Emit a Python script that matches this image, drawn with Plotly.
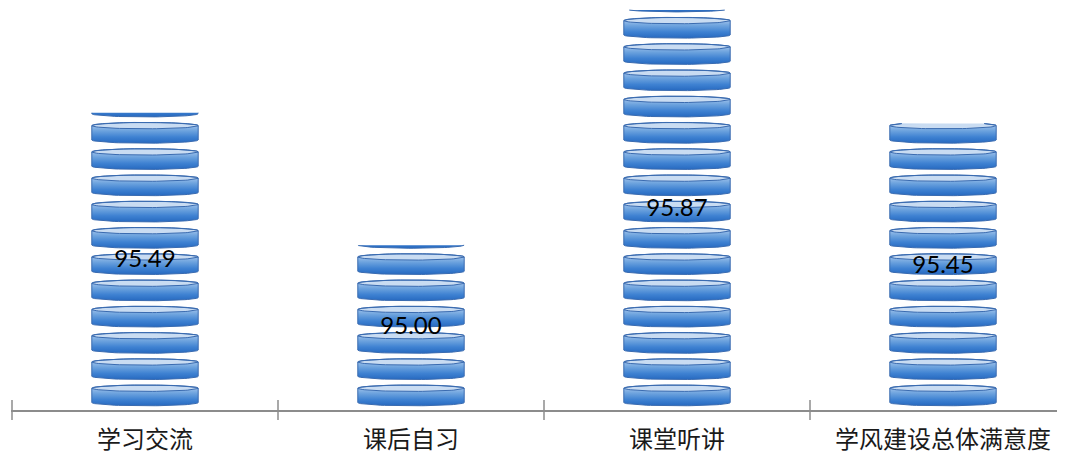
import numpy as np
import plotly.graph_objects as go

# ---------------- data ----------------
categories = ["学习交流", "课后自习", "课堂听讲", "学风建设总体满意度"]
values = [95.49, 95.00, 95.87, 95.45]
value_labels = ["95.49", "95.00", "95.87", "95.45"]
boundaries = [-0.5, 0.5, 1.5, 2.5]

# ---------------- layout / style ----------------
# (the page body adds an 8px offset, so margins are chosen to compensate)
W, H = 1065, 454
M_L, M_R, M_T, M_B = 3, 8, 0, 52
PLOT_H = H - M_T - M_B
PLOT_W = W - M_L - M_R
PX_X = 266.0                      # pixels per category
X0 = -0.5 - 1.0 / PX_X
X1 = X0 + PLOT_W / PX_X
PX_Y = 270.2                      # pixels per value unit
Y_MIN = 94.39
Y_MAX = Y_MIN + PLOT_H / PX_Y

PITCH = 26.26 / PX_Y    # disc repeat
DISC_H = 20.8 / PX_Y    # disc height
GAP0 = 4.2 / PX_Y       # gap above axis
RY = 3.2 / PX_Y         # ellipse half-height
HALF_W = 0.2            # half disc width (category units)

AXIS_COLOR = "#8c8c8c"
OUTLINE = "#3a6bb0"
TOP_FILL = "#c9dcf2"
SIDE_SCALE = [[0.0, "#2669c0"], [0.3, "#3f82d2"], [0.6, "#6da3de"],
              [0.85, "#9cc0ea"], [1.0, "#b4cfef"]]


def clip_polygon(pts, ytop):
    out = []
    n = len(pts)
    for i in range(n):
        p, q = pts[i], pts[(i + 1) % n]
        pin, qin = p[1] <= ytop, q[1] <= ytop
        if pin:
            out.append(p)
        if pin != qin:
            t = (ytop - p[1]) / (q[1] - p[1])
            out.append((p[0] + t * (q[0] - p[0]), ytop))
    return out


def clip_polyline(pts, ytop):
    pieces, cur = [], []
    for i in range(len(pts) - 1):
        p, q = pts[i], pts[i + 1]
        pin, qin = p[1] <= ytop, q[1] <= ytop
        if pin:
            if not cur:
                cur.append(p)
        if pin and qin:
            cur.append(q)
        elif pin != qin:
            t = (ytop - p[1]) / (q[1] - p[1])
            c = (p[0] + t * (q[0] - p[0]), ytop)
            if pin:
                cur.append(c)
                pieces.append(cur)
                cur = []
            else:
                cur = [c, q]
    if len(cur) > 1:
        pieces.append(cur)
    return pieces


def silhouette(xc, yb):
    ytc = yb + DISC_H - RY
    ybc = yb + RY
    th1 = np.linspace(np.pi, 0, 40)
    th2 = np.linspace(0, -np.pi, 40)
    pts = [(xc + HALF_W * np.cos(t), ytc + RY * np.sin(t)) for t in th1]
    pts += [(xc + HALF_W * np.cos(t), ybc + RY * np.sin(t)) for t in th2]
    return pts


def top_ellipse(xc, yb):
    ytc = yb + DISC_H - RY
    th = np.linspace(0, 2 * np.pi, 80)
    return [(xc + HALF_W * np.cos(t), ytc + RY * np.sin(t)) for t in th]


fig = go.Figure()
top_x, top_y = [], []
ol_x, ol_y = [], []

for i, v in enumerate(values):
    xc = i
    k = 0
    while True:
        yb = Y_MIN + GAP0 + k * PITCH
        if yb >= v:
            break
        sil = silhouette(xc, yb)
        poly = clip_polygon(sil, v)
        if len(poly) >= 3:
            fig.add_trace(go.Scatter(
                x=[p[0] for p in poly] + [poly[0][0]],
                y=[p[1] for p in poly] + [poly[0][1]],
                mode="lines", fill="toself", line=dict(width=0),
                fillgradient=dict(type="vertical", colorscale=SIDE_SCALE,
                                  start=yb, stop=yb + DISC_H),
                hoverinfo="skip", showlegend=False))
        ell = top_ellipse(xc, yb)
        epoly = clip_polygon(ell, v)
        if len(epoly) >= 3:
            top_x += [p[0] for p in epoly] + [epoly[0][0], None]
            top_y += [p[1] for p in epoly] + [epoly[0][1], None]
        for piece in clip_polyline(sil + [sil[0]], v) + clip_polyline(ell, v):
            ol_x += [p[0] for p in piece] + [None]
            ol_y += [p[1] for p in piece] + [None]
        k += 1

fig.add_trace(go.Scatter(x=top_x, y=top_y, mode="lines", fill="toself",
                         fillcolor=TOP_FILL, line=dict(width=0),
                         hoverinfo="skip", showlegend=False))
fig.add_trace(go.Scatter(x=ol_x, y=ol_y, mode="lines",
                         line=dict(color=OUTLINE, width=1),
                         hoverinfo="skip", showlegend=False))

# value labels at mid-height of each column
fig.add_trace(go.Scatter(
    x=list(range(len(values))),
    y=[(Y_MIN + v) / 2 for v in values],
    mode="text", text=value_labels,
    textfont=dict(family="Lato, Open Sans, sans-serif", size=24, color="#000000"),
    hoverinfo="skip", showlegend=False, cliponaxis=False))

# boundary tick marks crossing the axis line
for b in boundaries:
    fig.add_shape(type="line", xref="x", yref="paper",
                  x0=b, x1=b, y0=-10.0 / PLOT_H, y1=10.0 / PLOT_H,
                  line=dict(color=AXIS_COLOR, width=1.5))

fig.update_layout(
    width=W, height=H,
    margin=dict(l=M_L, r=M_R, t=M_T, b=M_B, pad=0),
    paper_bgcolor="white", plot_bgcolor="white",
    showlegend=False,
    xaxis=dict(range=[X0, X1], tickmode="array",
               tickvals=list(range(len(categories))), ticktext=categories,
               ticks="", showline=True, linecolor=AXIS_COLOR, linewidth=1.5,
               showgrid=False, zeroline=False, automargin=False,
               ticklabelstandoff=7,
               tickfont=dict(family="Noto Sans CJK SC", size=24, color="#1a1a1a")),
    yaxis=dict(range=[Y_MIN, Y_MAX], visible=False, showgrid=False,
               zeroline=False, fixedrange=True),
)

fig.write_html("out.html")
